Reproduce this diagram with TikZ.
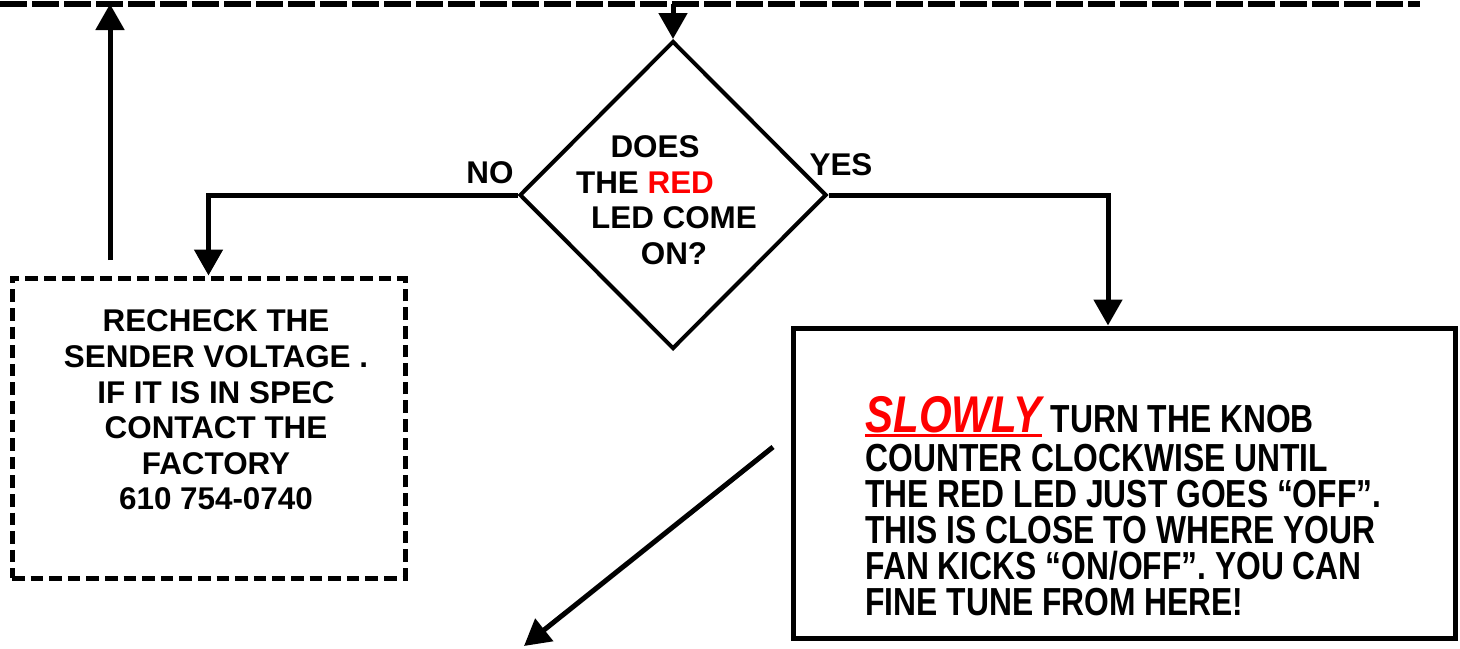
\documentclass[tikz,border=0pt]{standalone}
\usepackage{fontspec}
\setmainfont{Liberation Sans}
\usepackage{xcolor}
\usepackage{graphicx}
\usetikzlibrary{shapes.geometric, arrows.meta, positioning, calc}

\newcommand{\redunder}[1]{\textcolor{red}{\setbox0\hbox{#1}\rlap{\rule[-2pt]{\wd0}{1.2pt}}\box0}}

\begin{document}
\begin{tikzpicture}[x=0.5pt, y=-0.5pt, >={Triangle[length=13pt, width=14pt]},
    conn/.style={->, line width=2.5pt},
    txt/.style={font=\bfseries\fontsize{15.7}{17.8}\selectfont, inner sep=0pt, align=center}]
    \useasboundingbox (0,0) rectangle (1460,648);

    % Return line along the top
    \coordinate (busL) at (0,4);
    \coordinate (busR) at (1420,4);
    \draw [line width=3pt, dash pattern=on 13.5pt off 2.5pt] (busL) -- (busR);

    % Decision
    \node (dia) [draw, diamond, line width=2pt, minimum width=153.5pt, minimum height=154pt, inner sep=0pt] at (673,195) {};
    \node (diatext) [txt] at (674,200) {\hspace*{-19pt}DOES\\ \hspace*{-29pt}THE \textcolor{red}{RED}\\ LED COME\\ ON?};
    \node (nolabel) [txt, anchor=base] at (490,183) {NO};
    \node (yeslabel) [txt, anchor=base] at (841,175) {YES};

    % NO branch
    \node (lbox) [draw, line width=2.5pt, dash pattern=on 6.3pt off 3pt, minimum width=196.5pt, minimum height=150pt] at (208.5,428) {};
    \node (lboxtext) [txt] at (216,410) {RECHECK THE\\ SENDER VOLTAGE .\\ IF IT IS IN SPEC\\ CONTACT THE\\ FACTORY\\ 610 754-0740};

    % YES branch
    \node (rbox) [draw, line width=2.5pt, minimum width=331pt, minimum height=155pt] at (1124,483) {};
    \node (rboxtext) [anchor=base west, inner sep=0pt] at (865,432) {\scalebox{1}[1.23]{\parbox[t]{300pt}{\raggedright\bfseries\fontsize{15.9}{14.6}\selectfont
        {\fontsize{21}{14.6}\selectfont\itshape\redunder{SLOWLY}} TURN THE KNOB\\[1.6pt]
        COUNTER CLOCKWISE UNTIL\\
        THE RED LED JUST GOES “OFF”.\\
        THIS IS CLOSE TO WHERE YOUR\\
        FAN KICKS “ON/OFF”. YOU CAN\\
        FINE TUNE FROM HERE!}}};

    % Connectors
    \coordinate (retstart) at (110,260);
    \coordinate (exitA) at (773,447);
    \coordinate (exitB) at (524,646);
    \draw [conn] (retstart) -- (retstart |- busL);
    \draw [conn] (busL -| dia.north) -- (dia.north);
    \draw [conn] (dia.west) -| (lbox.north);
    \draw [conn] (dia.east) -| ($(rbox.north)+(-16,0)$);
    \draw [conn] (exitA) -- (exitB);
\end{tikzpicture}
\end{document}
